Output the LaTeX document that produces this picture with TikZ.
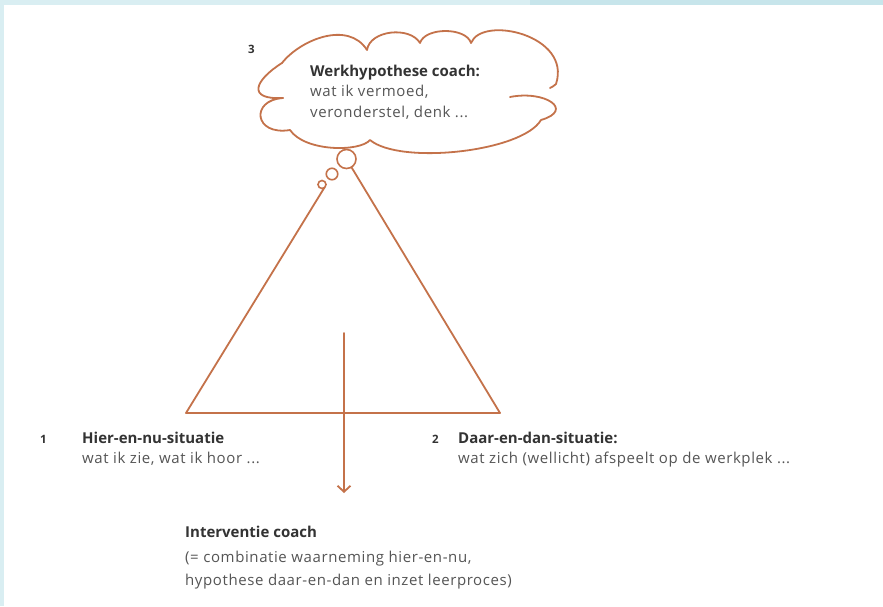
\documentclass[tikz,border=0pt]{standalone}
\usepackage{fontspec}
\setmainfont{Open Sans}
\newfontfamily\regfont[LetterSpace=4]{Open Sans}
\usetikzlibrary{arrows.meta}
\definecolor{brn}{HTML}{C4724A}
\definecolor{bgblue}{HTML}{D9EEF2}
\definecolor{bgblue2}{HTML}{C7E5EB}
\definecolor{txtdark}{HTML}{333333}
\definecolor{txtgray}{HTML}{555555}
\begin{document}
\begin{tikzpicture}[x=1pt,y=-1pt,
  line/.style={draw=brn, line width=1.8pt, line join=round, line cap=round},
  boldtxt/.style={anchor=base west, inner sep=0pt, text=txtdark, font=\fontsize{15}{16}\selectfont\bfseries},
  regtxt/.style={anchor=base west, inner sep=0pt, text=txtgray, font=\regfont\fontsize{15}{16}\selectfont},
  numtxt/.style={anchor=base west, inner sep=0pt, text=txtdark, font=\fontsize{11.5}{13}\selectfont\bfseries},
  bub/.style={circle, draw=brn, line width=1.6pt, inner sep=0pt, outer sep=0pt, fill=white}]
\useasboundingbox (0,0) rectangle (883,606);
\fill[bgblue] (0,0) rectangle (883,606);
\fill[bgblue2] (530,0) rectangle (883,5);
\fill[white] (4,5) rectangle (883,606);

% cloud
\draw[line] (283,98) .. controls (246,100) and (255,80) .. (282,63)
  .. controls (300,40) and (348,20) .. (367,50)
  .. controls (370,30) and (410,26) .. (420,43)
  .. controls (425,27) and (466,27) .. (471,43)
  .. controls (482,15) and (572,35) .. (556,84)
  .. controls (554,86) and (552,87) .. (550,88);
\draw[line] (510,97) .. controls (545,90) and (575,110) .. (541,120)
  .. controls (522,152) and (400,165) .. (370,140)
  .. controls (360,152) and (305,152) .. (290,130)
  .. controls (254,136) and (250,100) .. (283,98);

% thought bubbles
\node[bub, minimum size=19pt] (b1) at (346.5,159) {};
\node[bub, minimum size=11.5pt] (b2) at (332,174) {};
\node[bub, minimum size=8pt] (b3) at (322,184.5) {};

% triangle
\coordinate (bl) at (186,413);
\coordinate (br) at (500,413);
\draw[line] (b3.-55) -- (bl) -- (br) -- (b1);

% arrow
\coordinate (as) at (344,333);
\coordinate (ae) at (344,493);
\draw[line, -{Straight Barb[length=6pt,width=13pt,line width=1.8pt]}] (as) -- (ae);

% texts
\node[numtxt] (n3) at (248,53) {3};
\node[boldtxt] (t3a) at (310,76) {Werkhypothese coach:};
\node[regtxt] (t3b) at (310,96) {wat ik vermoed,};
\node[regtxt] (t3c) at (310,117) {veronderstel, denk ...};

\node[numtxt] (n1) at (40,443) {1};
\node[boldtxt] (t1a) at (82,443) {Hier-en-nu-situatie};
\node[regtxt] (t1b) at (82,463) {wat ik zie, wat ik hoor ...};

\node[numtxt] (n2) at (432,443) {2};
\node[boldtxt] (t2a) at (458,443) {Daar-en-dan-situatie:};
\node[regtxt] (t2b) at (458,463) {wat zich (wellicht) afspeelt op de werkplek ...};

\node[boldtxt] (t4a) at (185,537) {Interventie coach};
\node[regtxt] (t4b) at (185,562) {(= combinatie waarneming hier-en-nu,};
\node[regtxt] (t4c) at (185,585) {hypothese daar-en-dan en inzet leerproces)};
\end{tikzpicture}
\end{document}
